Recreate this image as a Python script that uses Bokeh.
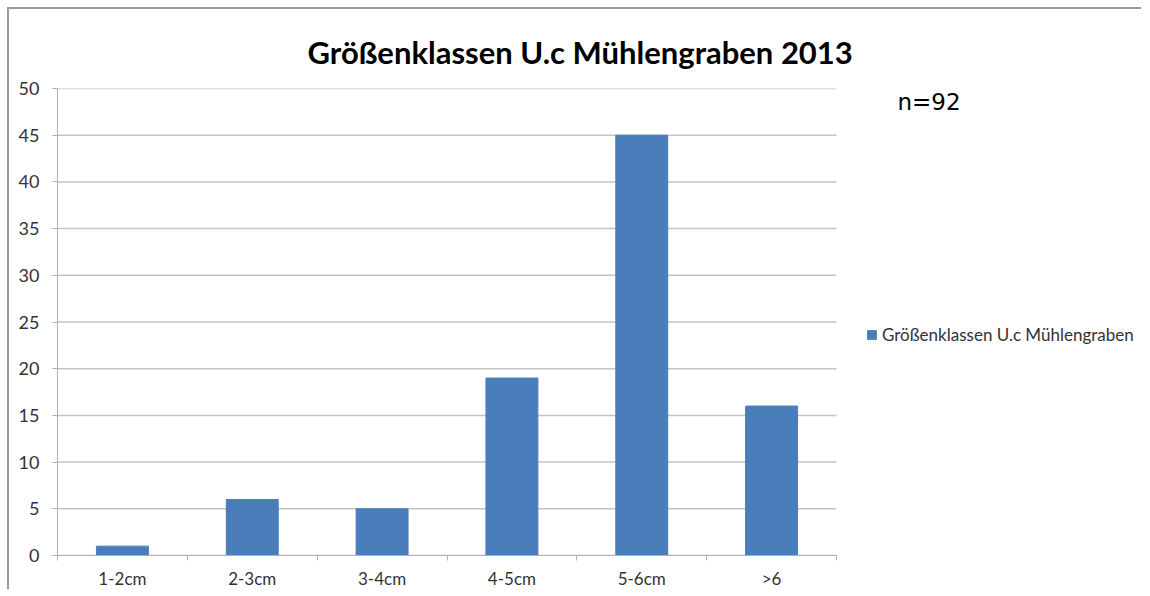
from bokeh.plotting import figure
from bokeh.models import Range1d, FixedTicker, Legend, LegendItem, Label, ColumnDataSource
from bokeh.embed import file_html
from bokeh.resources import INLINE

categories = ["1-2cm", "2-3cm", "3-4cm", "4-5cm", "5-6cm", ">6"]
counts = [1, 6, 5, 19, 45, 16]
series_name = "Größenklassen U.c Mühlengraben"
title_text = "Größenklassen U.c Mühlengraben 2013"
note_text = "n=92"
y_ticks = list(range(0, 51, 5))

BAR = "#4a7ebb"
AXIS = "#b0b0b0"
GRID = "#c4c4c4"
FONT = "Lato"

W, H = 1134, 582
BL, BR, BT, BB = 48, 3, 79, 30
PLOT_W = 779  # pixel width of the category area inside the frame

n = len(categories)
centers = [i + 0.5 for i in range(n)]
source = ColumnDataSource(dict(x=centers, top=counts, cat=categories))
x_end = n * (W - BL - BR) / PLOT_W

p = figure(width=W, height=H, output_backend="svg", toolbar_location=None,
           x_range=Range1d(0, x_end), y_range=Range1d(0, 50),
           min_border_left=BL, min_border_right=BR, min_border_top=BT, min_border_bottom=BB,
           title=title_text)
p.styles = {"border-left": "2px solid #9a9a9a", "border-top": "2px solid #9a9a9a",
            "margin-left": "7px", "margin-top": "7px"}
p.outline_line_color = None
p.background_fill_color = "white"
p.border_fill_color = "white"

p.title.text_font = FONT
p.title.text_font_style = "bold"
p.title.text_font_size = "31px"
p.title.text_color = "black"
p.title.align = "left"
p.title.offset = 250
p.title.standoff = 35

# horizontal gridlines over the category area only
p.segment(x0=[0] * len(y_ticks), x1=[n] * len(y_ticks), y0=y_ticks, y1=y_ticks,
          line_color=GRID, line_width=1.5, level="underlay")

r = p.vbar(x="x", top="top", width=0.4, source=source, fill_color=BAR, line_color=BAR)

# axes
xa = p.xaxis[0]
xa.bounds = (0, n)
xa.ticker = FixedTicker(ticks=centers, minor_ticks=list(range(n + 1)))
xa.major_label_overrides = {c: cat for c, cat in zip(centers, categories)}
xa.major_tick_line_color = None
xa.major_tick_out = 0
xa.major_tick_in = 0
xa.minor_tick_out = 5
xa.minor_tick_in = 0
xa.minor_tick_line_color = AXIS
xa.axis_line_color = AXIS
xa.major_label_standoff = 7
xa.major_label_text_font = FONT
xa.major_label_text_font_size = "17px"
xa.major_label_text_color = "#333333"

ya = p.yaxis[0]
ya.bounds = (0, 50)
ya.ticker = FixedTicker(ticks=y_ticks, minor_ticks=[])
ya.major_tick_out = 5
ya.major_tick_in = 0
ya.major_tick_line_color = AXIS
ya.minor_tick_line_color = None
ya.axis_line_color = AXIS
ya.major_label_standoff = 13
ya.major_label_text_font = FONT
ya.major_label_text_font_size = "18px"
ya.major_label_text_color = "#333333"

p.xgrid.grid_line_color = None
p.ygrid.grid_line_color = None

legend = Legend(items=[LegendItem(label=series_name, renderers=[r])],
                location=(809, 210), padding=0, margin=0, border_line_color=None,
                background_fill_alpha=0, glyph_width=11, glyph_height=11, label_standoff=5,
                label_text_font=FONT, label_text_font_size="17px", label_text_color="#333333")
p.add_layout(legend, "center")

note = Label(x=6.47, y=48.6, text=note_text, text_font="DejaVu Sans", text_font_size="23px",
             text_color="black", text_baseline="middle", text_align="left")
p.add_layout(note)

open("out.html", "w").write(file_html(p, INLINE))
